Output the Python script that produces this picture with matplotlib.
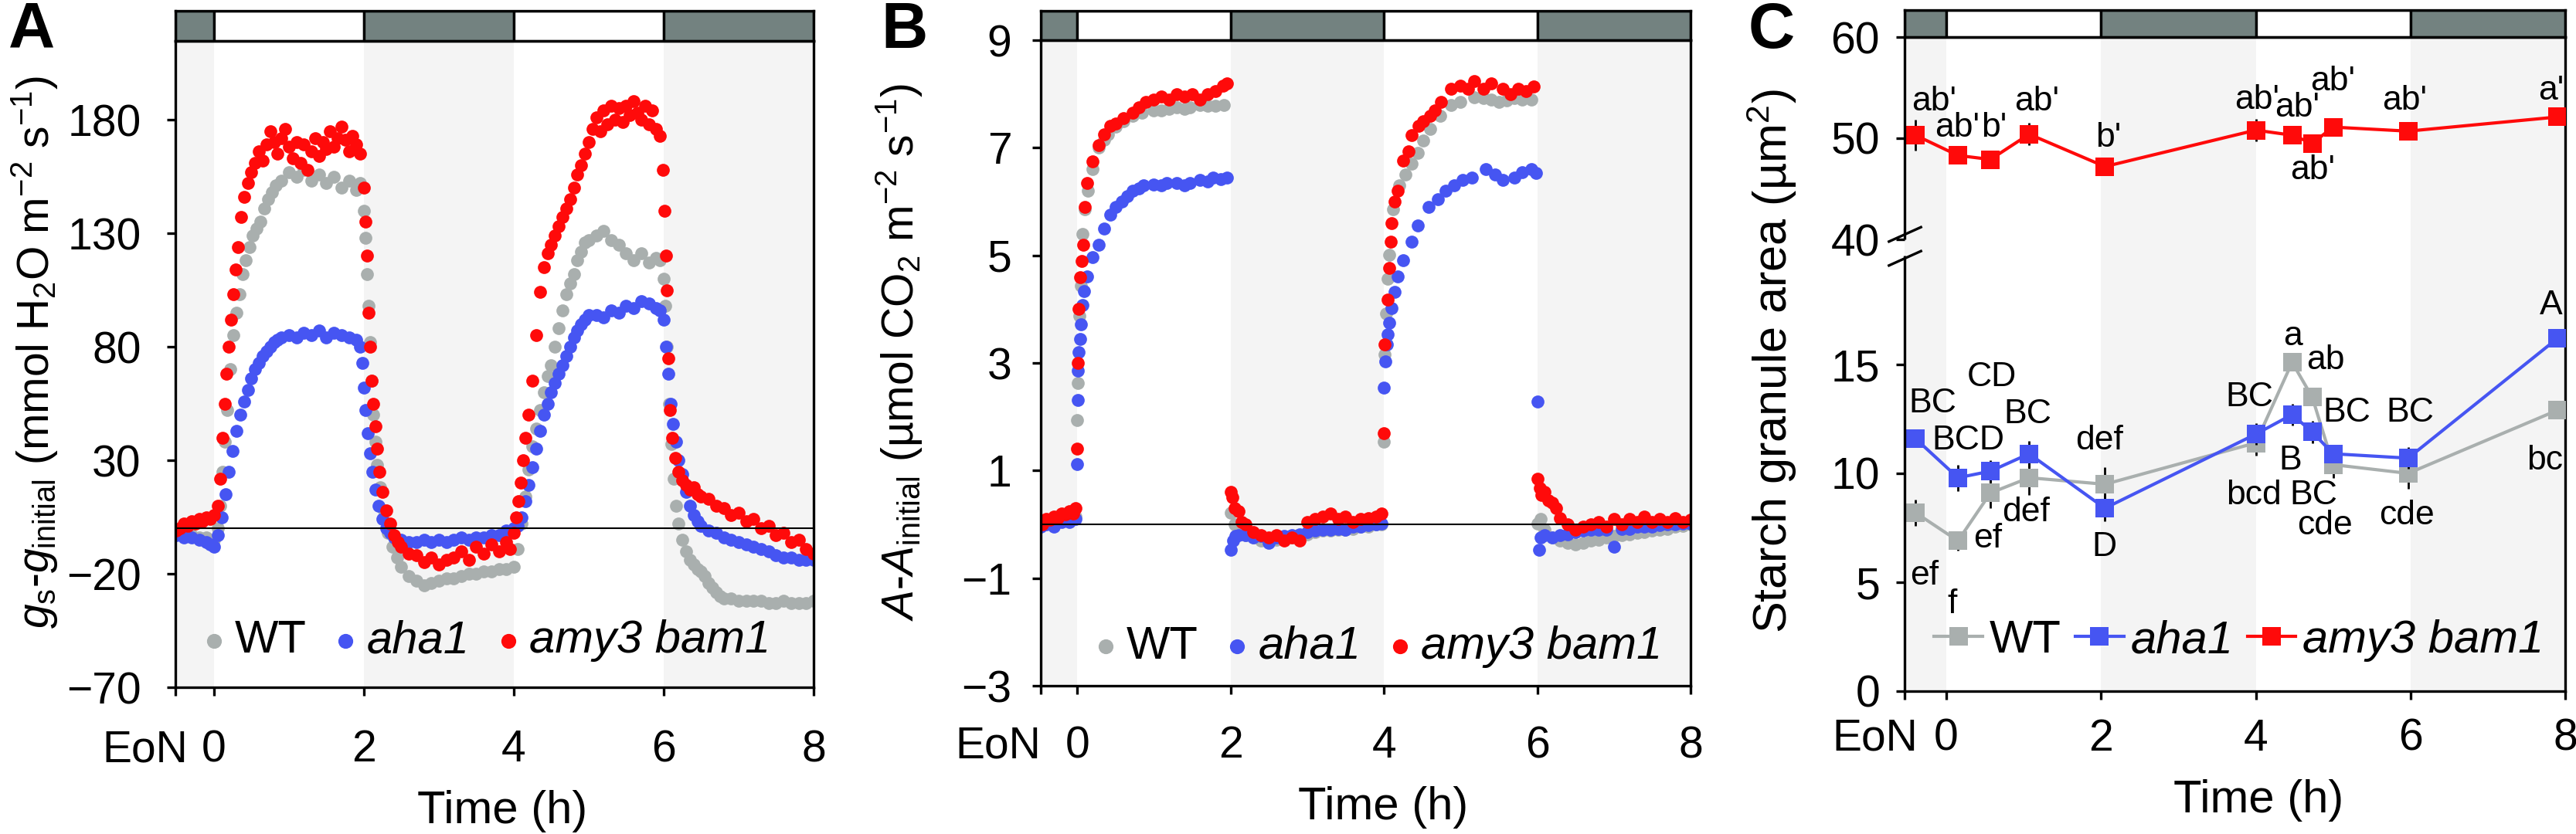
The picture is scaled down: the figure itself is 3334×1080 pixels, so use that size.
import numpy as np
import matplotlib
matplotlib.use("Agg")
import matplotlib.pyplot as plt
from matplotlib.patches import Rectangle
from matplotlib.transforms import ScaledTranslation

# ---------------------------------------------------------------- data
GENOTYPES = ["WT", "aha1", "amy3 bam1"]
X_TICKS = [0, 2, 4, 6, 8]
LIGHT_PERIODS = [(0, 2), (4, 6)]
DARK_PERIODS = [(2, 4), (6, 8)]

# Panel A: g_s - g_initial (mmol H2O m-2 s-1)
A_WT_T = ([-0.5, -0.4, -0.3, -0.2, -0.1, 0.0]
          + [0.05, 0.08, 0.11, 0.14, 0.18, 0.22, 0.26, 0.3, 0.34, 0.38, 0.42, 0.47, 0.52, 0.57, 0.62, 0.67, 0.72, 0.77, 0.83]
          + [0.9, 1.0, 1.1, 1.2, 1.3, 1.4, 1.5, 1.6, 1.7, 1.8, 1.9, 1.95]
          + [2.0, 2.02, 2.04, 2.06, 2.08, 2.1, 2.12, 2.15, 2.18, 2.22, 2.27, 2.32, 2.38, 2.44, 2.5]
          + [2.6, 2.7, 2.8, 2.9, 3.0, 3.1, 3.2, 3.3, 3.4, 3.5, 3.6, 3.7, 3.8, 3.9, 4.0]
          + [4.05, 4.1, 4.15, 4.2, 4.25, 4.3, 4.35, 4.4, 4.45, 4.5, 4.55, 4.6, 4.65, 4.7, 4.75, 4.8, 4.85, 4.9, 4.95, 5.0]
          + [5.1, 5.2, 5.3, 5.4, 5.5, 5.6, 5.7, 5.8, 5.9, 5.95]
          + [6.0, 6.02, 6.04, 6.07, 6.1, 6.13, 6.16, 6.2, 6.25, 6.3, 6.35, 6.4, 6.45, 6.5, 6.55, 6.6, 6.65, 6.7, 6.75, 6.8]
          + [6.9, 7.0, 7.1, 7.2, 7.3, 7.4, 7.5, 7.6, 7.7, 7.8, 7.9, 8.0])
A_WT_V = ([-2, -3, -3, -4, -4, -5]
          + [0, 10, 25, 38, 52, 70, 85, 95, 103, 112, 118, 124, 129, 132, 135, 141, 145, 148, 151]
          + [153, 157, 155, 158, 153, 156, 152, 155, 150, 153, 149, 152]
          + [140, 128, 112, 98, 82, 65, 50, 38, 28, 18, 8, -2, -8, -13, -17]
          + [-21, -23, -25, -24, -23, -22, -22, -21, -20, -20, -19, -19, -18, -18, -17]
          + [-9, 2, 14, 26, 36, 44, 52, 60, 67, 72, 80, 88, 96, 103, 108, 112, 118, 122, 126, 127]
          + [129, 131, 127, 125, 121, 118, 121, 117, 119, 118]
          + [110, 98, 80, 55, 37, 22, 10, 2, -5, -10, -14, -16, -18, -19, -21, -24, -26, -28, -30, -31]
          + [-31, -32, -32, -32, -32, -33, -33, -32, -33, -33, -33, -32])

A_AHA_T = ([-0.5, -0.4, -0.3, -0.2, -0.1, -0.05, 0.0]
           + [0.05, 0.1, 0.15, 0.2, 0.25, 0.3, 0.35, 0.4, 0.45, 0.5, 0.55, 0.6, 0.65, 0.7, 0.75, 0.8, 0.85, 0.9]
           + [1.0, 1.1, 1.2, 1.3, 1.4, 1.5, 1.6, 1.7, 1.8, 1.9, 1.95]
           + [1.98, 2.0, 2.02, 2.05, 2.08, 2.11, 2.15, 2.2, 2.25, 2.3, 2.35, 2.4]
           + [2.5, 2.6, 2.7, 2.8, 2.9, 3.0, 3.1, 3.2, 3.3, 3.4, 3.5, 3.6, 3.7, 3.8, 3.9, 4.0]
           + [4.05, 4.1, 4.15, 4.2, 4.25, 4.3, 4.35, 4.4, 4.45, 4.5, 4.55, 4.6, 4.65, 4.7, 4.75, 4.8, 4.85, 4.9, 4.95, 5.0]
           + [5.1, 5.2, 5.3, 5.4, 5.5, 5.6, 5.7, 5.8, 5.9, 5.95]
           + [6.0, 6.03, 6.06, 6.09, 6.12, 6.16, 6.2, 6.25, 6.3, 6.35, 6.4, 6.45, 6.5]
           + [6.6, 6.7, 6.8, 6.9, 7.0, 7.1, 7.2, 7.3, 7.4, 7.5, 7.6, 7.7, 7.8, 7.9, 8.0])
A_AHA_V = ([-3, -4, -4, -5, -6, -7, -8]
           + [-3, 5, 15, 25, 34, 43, 50, 56, 61, 66, 70, 73, 76, 78, 80, 82, 83, 84]
           + [85, 84, 86, 85, 87, 84, 86, 85, 84, 83, 80]
           + [73, 62, 52, 42, 33, 25, 17, 10, 4, 0, -2, -4]
           + [-5, -6, -6, -5, -6, -5, -6, -5, -4, -5, -4, -4, -3, -3, -1, 0]
           + [1, 5, 12, 19, 27, 35, 43, 50, 55, 60, 64, 68, 72, 76, 80, 84, 87, 90, 92, 94]
           + [94, 93, 96, 95, 98, 97, 100, 99, 97, 96]
           + [92, 80, 68, 55, 46, 38, 30, 24, 16, 10, 6, 3, 1]
           + [-1, -2, -4, -5, -6, -7, -8, -9, -10, -12, -13, -13, -14, -14, -14])

A_AMY_T = ([-0.5, -0.45, -0.4, -0.35, -0.3, -0.25, -0.2, -0.15, -0.1, -0.05, 0.0]
           + [0.05, 0.08, 0.11, 0.14, 0.17, 0.2, 0.23, 0.26, 0.29, 0.32, 0.36, 0.4, 0.45, 0.5, 0.55, 0.6, 0.65, 0.7, 0.75, 0.8]
           + [0.85, 0.9, 0.95, 1.0, 1.05, 1.1, 1.15, 1.2, 1.25, 1.3, 1.35, 1.4, 1.45, 1.5, 1.55, 1.6, 1.65, 1.7, 1.75, 1.8, 1.85, 1.9, 1.95]
           + [2.0, 2.02, 2.04, 2.06, 2.08, 2.1, 2.12, 2.15, 2.18, 2.21, 2.25, 2.3, 2.35, 2.4, 2.45, 2.5]
           + [2.6, 2.7, 2.8, 2.9, 3.0, 3.1, 3.2, 3.3, 3.4, 3.5, 3.6, 3.7, 3.8, 3.9, 3.95]
           + [4.0, 4.03, 4.06, 4.09, 4.12, 4.16, 4.2, 4.25, 4.3, 4.35, 4.4, 4.45, 4.5, 4.55, 4.6, 4.65, 4.7, 4.75, 4.8, 4.85, 4.9, 4.95, 5.0]
           + [5.05, 5.1, 5.15, 5.2, 5.25, 5.3, 5.35, 5.4, 5.45, 5.5, 5.55, 5.6, 5.65, 5.7, 5.75, 5.8, 5.85, 5.9, 5.95]
           + [5.99, 6.01, 6.03, 6.04, 6.06, 6.08, 6.11, 6.15, 6.2, 6.25]
           + [6.3, 6.35, 6.4, 6.45, 6.5]
           + [6.6, 6.7, 6.8, 6.9, 7.0, 7.1, 7.2, 7.3, 7.4, 7.5, 7.6, 7.7, 7.8, 7.9, 8.0])
A_AMY_V = ([-1, 0, 2, 1, 3, 2, 4, 3, 5, 4, 6]
           + [10, 22, 40, 55, 68, 80, 92, 103, 114, 124, 137, 146, 152, 157, 161, 166, 162, 169, 175, 170]
           + [165, 172, 176, 168, 163, 170, 161, 169, 158, 166, 172, 164, 170, 167, 175, 168, 172, 177, 171, 166, 173, 169, 165]
           + [150, 135, 120, 95, 80, 65, 55, 45, 35, 25, 16, 8, 2, -3, -6, -8]
           + [-11, -12, -15, -13, -16, -14, -13, -10, -14, -8, -11, -7, -10, -6, -9]
           + [-2, 5, 12, 20, 30, 40, 50, 65, 85, 104, 115, 121, 125, 129, 133, 137, 141, 145, 150, 156, 160, 165, 170]
           + [176, 181, 175, 184, 178, 186, 180, 185, 179, 186, 182, 188, 183, 180, 186, 178, 184, 176, 173]
           + [158, 140, 120, 105, 75, 52, 40, 31, 25, 21]
           + [19, 17, 18, 15, 14]
           + [13, 10, 9, 6, 7, 3, 4, 0, 1, -3, -2, -6, -5, -9, -11])

# Panel B: A - A_initial (umol CO2 m-2 s-1)
B_WT_T = ([-0.47, -0.4, -0.3, -0.2, -0.1, -0.02]
          + [0.0, 0.01, 0.03, 0.05, 0.07, 0.1, 0.14, 0.2, 0.28, 0.35, 0.4, 0.5, 0.6, 0.72, 0.85, 1.0, 1.1, 1.2, 1.3, 1.4, 1.47, 1.6, 1.7, 1.8, 1.91]
          + [2.0, 2.05, 2.1, 2.2, 2.3, 2.4, 2.5, 2.6, 2.7, 2.8, 2.9, 3.0, 3.1, 3.2, 3.3, 3.4, 3.5, 3.6, 3.7, 3.8, 3.9, 3.97]
          + [4.0, 4.01, 4.03, 4.05, 4.07, 4.12, 4.2, 4.28, 4.36, 4.44, 4.51, 4.6, 4.73, 4.88, 5.0, 5.18, 5.3, 5.4, 5.5, 5.6, 5.7, 5.8, 5.92]
          + [6.0, 6.05, 6.1, 6.2, 6.3, 6.4, 6.5, 6.6, 6.7, 6.8, 6.9, 7.0, 7.1, 7.2, 7.3, 7.4, 7.5, 7.6, 7.7, 7.8, 7.9, 8.0])
B_WT_V = ([0.0, 0.05, 0.05, 0.1, 0.1, 0.15]
          + [1.94, 2.63, 3.88, 4.44, 5.4, 5.86, 6.2, 6.6, 7.0, 7.15, 7.25, 7.39, 7.5, 7.6, 7.65, 7.69, 7.7, 7.72, 7.75, 7.72, 7.75, 7.8, 7.78, 7.78, 7.8]
          + [0.22, 0.0, -0.1, -0.2, -0.25, -0.3, -0.3, -0.28, -0.25, -0.25, -0.2, -0.18, -0.15, -0.12, -0.12, -0.1, -0.1, -0.08, -0.05, -0.05, 0.0, 0.0]
          + [1.53, 3.16, 3.92, 4.57, 5.01, 5.86, 6.3, 6.5, 6.7, 6.9, 7.14, 7.35, 7.59, 7.79, 7.85, 7.94, 7.92, 7.9, 7.85, 7.88, 7.92, 7.9, 7.89]
          + [0.02, 0.1, -0.1, -0.25, -0.3, -0.35, -0.38, -0.35, -0.3, -0.28, -0.25, -0.22, -0.2, -0.18, -0.16, -0.15, -0.12, -0.1, -0.08, -0.05, -0.03, 0.0])

B_AHA_T = ([-0.47, -0.4, -0.3, -0.2, -0.1, -0.02]
           + [0.0, 0.005, 0.01, 0.02, 0.04, 0.05, 0.07, 0.09, 0.13, 0.2, 0.28, 0.35, 0.43, 0.5, 0.58, 0.65, 0.72, 0.8, 0.87, 1.0, 1.1, 1.17, 1.3, 1.4, 1.47, 1.6, 1.7, 1.77, 1.87, 1.95]
           + [2.0, 2.03, 2.06, 2.1, 2.2, 2.3, 2.4, 2.5, 2.6, 2.7, 2.8, 2.9, 3.0, 3.1, 3.2, 3.3, 3.4, 3.5, 3.6, 3.7, 3.8, 3.9, 3.97]
           + [4.0, 4.02, 4.04, 4.05, 4.07, 4.1, 4.14, 4.18, 4.25, 4.36, 4.44, 4.58, 4.7, 4.81, 4.92, 5.03, 5.15, 5.33, 5.45, 5.55, 5.7, 5.8, 5.92, 5.98]
           + [6.0, 6.02, 6.05, 6.1, 6.2, 6.3, 6.4, 6.5, 6.6, 6.7, 6.8, 6.9, 7.0, 7.1, 7.2, 7.3, 7.4, 7.5, 7.6, 7.7, 7.8, 7.9, 8.0])
B_AHA_V = ([-0.05, 0.0, -0.05, 0.05, 0.05, 0.1]
           + [1.12, 2.31, 2.86, 3.2, 3.45, 3.72, 4.07, 4.34, 4.61, 4.97, 5.2, 5.5, 5.76, 5.9, 6.0, 6.1, 6.2, 6.25, 6.3, 6.32, 6.3, 6.35, 6.35, 6.3, 6.35, 6.4, 6.38, 6.45, 6.42, 6.45]
           + [-0.47, -0.3, -0.22, -0.2, -0.2, -0.25, -0.22, -0.35, -0.25, -0.22, -0.2, -0.18, -0.15, -0.12, -0.1, -0.1, -0.08, -0.1, -0.05, -0.05, -0.02, 0.0, 0.02]
           + [2.54, 3.03, 3.35, 3.53, 3.75, 4.02, 4.32, 4.61, 4.91, 5.26, 5.56, 5.9, 6.05, 6.2, 6.3, 6.4, 6.45, 6.6, 6.5, 6.4, 6.45, 6.55, 6.6, 6.53]
           + [2.28, -0.47, -0.25, -0.2, -0.25, -0.2, -0.18, -0.15, -0.12, -0.1, -0.1, -0.1, -0.42, -0.08, -0.08, -0.05, -0.05, -0.05, -0.02, 0.0, 0.0, 0.02, 0.02])

B_AMY_T = ([-0.47, -0.45, -0.4, -0.35, -0.3, -0.25, -0.2, -0.15, -0.1, -0.05, -0.02]
           + [0.0, 0.01, 0.02, 0.04, 0.06, 0.08, 0.1, 0.13, 0.2, 0.28, 0.35, 0.43, 0.5, 0.6, 0.72, 0.8, 0.9, 1.0, 1.1, 1.2, 1.3, 1.4, 1.5, 1.6, 1.7, 1.8, 1.9, 1.95]
           + [2.0, 2.02, 2.05, 2.1, 2.15, 2.2, 2.3, 2.4, 2.5, 2.6, 2.7, 2.8, 2.9, 3.0, 3.1, 3.2, 3.3, 3.4, 3.5, 3.6, 3.7, 3.8, 3.9, 3.97]
           + [4.0, 4.01, 4.05, 4.07, 4.09, 4.1, 4.14, 4.18, 4.25, 4.32, 4.36, 4.45, 4.51, 4.6, 4.66, 4.75, 4.88, 5.0, 5.1, 5.18, 5.3, 5.4, 5.55, 5.65, 5.75, 5.85, 5.95]
           + [6.0, 6.03, 6.06, 6.1, 6.15, 6.2, 6.25, 6.3, 6.4, 6.5, 6.6, 6.7, 6.8, 6.9, 7.0, 7.1, 7.2, 7.3, 7.4, 7.5, 7.6, 7.7, 7.8, 7.9, 8.0])
B_AMY_V = ([0.05, 0.0, 0.1, 0.08, 0.15, 0.12, 0.2, 0.18, 0.25, 0.2, 0.3]
           + [1.4, 3.0, 4.0, 4.6, 4.9, 5.2, 5.9, 6.35, 6.75, 7.05, 7.25, 7.4, 7.45, 7.55, 7.65, 7.75, 7.85, 7.9, 7.95, 7.9, 8.0, 7.95, 8.0, 7.9, 8.0, 8.05, 8.15, 8.2]
           + [0.6, 0.5, 0.3, 0.25, 0.05, 0.0, -0.15, -0.2, -0.25, -0.2, -0.3, -0.25, -0.3, 0.05, 0.1, 0.15, 0.2, 0.1, 0.15, 0.05, 0.1, 0.12, 0.15, 0.2]
           + [1.7, 3.35, 4.17, 4.77, 5.26, 5.6, 6.0, 6.2, 6.76, 6.94, 7.24, 7.4, 7.49, 7.6, 7.69, 7.85, 8.09, 8.15, 8.1, 8.24, 8.1, 8.2, 8.09, 8.0, 8.1, 8.05, 8.14]
           + [0.84, 0.67, 0.55, 0.6, 0.45, 0.4, 0.3, 0.12, 0.0, -0.1, -0.05, 0.0, 0.05, -0.05, 0.1, 0.0, 0.1, 0.05, 0.15, 0.05, 0.1, 0.05, 0.12, 0.05, 0.08])

# Panel C: starch granule area (um2)
C_T = [-0.4, 0.15, 0.57, 1.07, 2.05, 4.0, 4.47, 4.73, 5.0, 5.97, 7.9]
C_WT = [8.2, 6.9, 9.1, 9.8, 9.5, 11.4, 15.1, 13.5, 10.4, 10.0, 12.9]
C_WT_ERR = [0.6, 0.45, 0.7, 0.8, 0.8, 0.6, 0.3, 0.3, 0.6, 0.7, 0.3]
C_AHA = [11.6, 9.8, 10.1, 10.9, 8.4, 11.8, 12.7, 11.9, 10.9, 10.7, 16.2]
C_AHA_ERR = [0.4, 0.6, 0.5, 0.6, 0.6, 0.5, 0.5, 0.5, 0.3, 0.5, 0.3]
C_AMY = [50.3, 48.3, 47.9, 50.4, 47.2, 50.8, 50.3, 49.5, 51.1, 50.7, 52.1]
C_AMY_ERR = [1.5, 0.8, 0.5, 1.1, 0.5, 1.1, 0.6, 0.8, 0.8, 0.5, 0.5]

# significance letters (text, x, y)
C_LETTERS = [
    ("ab'", -0.16, 53.6), ("ab'", 0.14, 51.0), ("b'", 0.62, 51.0), ("ab'", 1.17, 53.6),
    ("b'", 2.09, 50.0), ("ab'", 4.02, 53.8), ("ab'", 4.54, 53.0), ("ab'", 4.99, 55.6),
    ("ab'", 4.74, 46.8), ("ab'", 5.92, 53.7), ("a'", 7.82, 54.7),
    ("BC", -0.18, 13.2), ("BCD", 0.28, 11.5), ("CD", 0.59, 14.4), ("BC", 1.05, 12.7),
    ("def", 1.98, 11.5), ("def", 1.03, 8.2), ("ef", 0.54, 7.0), ("D", 2.04, 6.6),
    ("ef", -0.28, 5.3), ("f", 0.07, 4.0), ("bcd", 3.97, 9.0), ("BC", 4.75, 9.0),
    ("B", 4.45, 10.6), ("cde", 4.89, 7.6), ("cde", 5.95, 8.05), ("BC", 3.92, 13.5),
    ("a", 4.48, 16.3), ("ab", 4.9, 15.2), ("BC", 5.18, 12.8), ("BC", 6.0, 12.8),
    ("A", 7.82, 17.7), ("bc", 7.74, 10.6),
]

# ---------------------------------------------------------------- style
plt.rcParams['font.family'] = ['Liberation Sans', 'DejaVu Sans']
plt.rcParams['mathtext.fontset'] = 'custom'
plt.rcParams['mathtext.rm'] = 'Liberation Sans'
plt.rcParams['mathtext.it'] = 'Liberation Sans:italic'
plt.rcParams['mathtext.bf'] = 'Liberation Sans:bold'

GRAY = '#a9afae'
BLUE = '#4655f2'
RED = '#ff0a0a'
HEADER = '#738280'
SHADE = '#f4f4f4'
LW = 2.4
TICK_FS = 41

W, H = 3334, 1080
fig = plt.figure(figsize=(W / 100, H / 100), dpi=100)


def rect(x0, y0, x1, y1):
    return [x0 / W, 1 - y1 / H, (x1 - x0) / W, (y1 - y0) / H]


def header(box, xmin):
    hx = fig.add_axes(rect(*box))
    hx.set_xlim(xmin, 8)
    hx.set_ylim(0, 1)
    edges = [xmin, 0, 2, 4, 6, 8]
    for a, b in zip(edges[:-1], edges[1:]):
        light = any(a >= s and b <= e for s, e in LIGHT_PERIODS)
        hx.add_patch(Rectangle((a, 0), b - a, 1, facecolor='white' if light else HEADER,
                               edgecolor='k', lw=LW))
    hx.set_xticks([])
    hx.set_yticks([])
    for sp in hx.spines.values():
        sp.set_linewidth(LW)
    return hx


def base_axes(box, xmin, xpad, ypad, eon_dx):
    ax = fig.add_axes(rect(*box))
    ax.set_xlim(xmin, 8)
    ax.axvspan(xmin, 0, color=SHADE, lw=0, zorder=0)
    for s, e in DARK_PERIODS:
        ax.axvspan(s, e, color=SHADE, lw=0, zorder=0)
    ax.set_xticks([xmin] + X_TICKS, ['EoN'] + [str(t) for t in X_TICKS])
    for sp in ax.spines.values():
        sp.set_linewidth(LW)
    ax.tick_params(direction='out', length=8, width=LW, labelsize=TICK_FS)
    ax.tick_params(axis='x', pad=xpad)
    ax.tick_params(axis='y', pad=ypad)
    lab = ax.xaxis.get_major_ticks()[0].label1
    lab.set_horizontalalignment('right')
    lab.set_transform(lab.get_transform() + ScaledTranslation(eon_dx / 100, 0, fig.dpi_scale_trans))
    return ax


def scatter_legend(ax, handles, anchor):
    leg = ax.legend(handles, GENOTYPES, loc='center left', bbox_to_anchor=anchor, ncol=3,
                    frameon=False, fontsize=43, handletextpad=0.1, columnspacing=0.5,
                    borderpad=0, borderaxespad=0, handlelength=0.7, markerscale=1.15)
    for i, t in enumerate(leg.get_texts()):
        if i > 0:
            t.set_fontstyle('italic')
    return leg


DOT = 145

# ---------------- Panel A
axA = base_axes((227, 53, 1053, 890), -0.515, 31, 24, 16)
header((227, 14, 1053, 53), -0.515)
axA.set_ylim(-70, 214.7)
axA.set_yticks([-70, -20, 30, 80, 130, 180])
hA = [axA.scatter(A_WT_T, A_WT_V, s=DOT, color=GRAY, lw=0, zorder=2),
      axA.scatter(A_AHA_T, A_AHA_V, s=DOT, color=BLUE, lw=0, zorder=2.1),
      axA.scatter(A_AMY_T, A_AMY_V, s=DOT, color=RED, lw=0, zorder=2.2)]
axA.axhline(0, color='k', lw=1.5, zorder=3)
scatter_legend(axA, hA, (0.035, 0.072))

# ---------------- Panel B
axB = base_axes((1347, 52, 2188, 888), -0.475, 29, 19, 0)
header((1347, 14, 2188, 52), -0.475)
axB.set_ylim(-3, 9)
axB.set_yticks([-3, -1, 1, 3, 5, 7, 9])
hB = [axB.scatter(B_WT_T, B_WT_V, s=DOT, color=GRAY, lw=0, zorder=2),
      axB.scatter(B_AHA_T, B_AHA_V, s=DOT, color=BLUE, lw=0, zorder=2.1),
      axB.scatter(B_AMY_T, B_AMY_V, s=DOT, color=RED, lw=0, zorder=2.2)]
axB.axhline(0, color='k', lw=1.5, zorder=3)
scatter_legend(axB, hB, (0.075, 0.061))

# ---------------- Panel C (broken y axis through a function scale)
GAP = 21 / 28.2
SQ = 13.1 / 28.2


def fwd(v):
    v = np.asarray(v, dtype=float)
    return np.where(v <= 20, v, np.where(v >= 40, 20 + GAP + (v - 40) * SQ, 20 + (v - 20) / 20 * GAP))


def inv(u):
    u = np.asarray(u, dtype=float)
    return np.where(u <= 20, u, np.where(u >= 20 + GAP, 40 + (u - 20 - GAP) / SQ, 20 + (u - 20) / GAP * 20))


XMIN_C = -0.54
axC = base_axes((2465, 48, 3320, 895), XMIN_C, 17, 15, 17)
header((2465, 13, 3320, 48), XMIN_C)
axC.set_yscale('function', functions=(fwd, inv))
axC.set_ylim(0, 60)
axC.set_yticks([0, 5, 10, 15, 40, 50, 60])
axC.spines['left'].set_visible(False)
for lo, hi in [(0, 20), (40, 60)]:
    axC.plot([XMIN_C, XMIN_C], [lo, hi], color='k', lw=LW, clip_on=False, zorder=6,
             solid_capstyle='butt')
for yb in (19.9, 40.5):
    axC.plot([XMIN_C], [yb], marker=[(-1, -0.45), (1, 0.45)], ms=32, mew=LW, color='k',
             clip_on=False, zorder=7)

series_c = [(C_WT, C_WT_ERR, GRAY, 3), (C_AHA, C_AHA_ERR, BLUE, 4), (C_AMY, C_AMY_ERR, RED, 5)]
hC = []
for vals, err, col, z in series_c:
    eb = axC.errorbar(C_T, vals, yerr=err, fmt='-s', color=col, ecolor='k', elinewidth=2,
                      capsize=6, capthick=2, ms=17, mew=0, lw=3, zorder=z)
    hC.append(eb[0])
for txt, x, y in C_LETTERS:
    axC.text(x, y, txt, ha='center', va='center', fontsize=32, zorder=8)
legC = axC.legend(hC, GENOTYPES, loc='center left', bbox_to_anchor=(0.045, 0.077), ncol=3,
                  frameon=False, fontsize=43, handletextpad=0.15, columnspacing=0.3,
                  borderpad=0, borderaxespad=0, handlelength=1.05)
for i, t in enumerate(legC.get_texts()):
    if i > 0:
        t.set_fontstyle('italic')

# ---------------- labels
YL = 41
fig.text(45 / W, 1 - 456 / H,
         r'$g_{\mathrm{s}}$-$g_{\mathrm{initial}}$ (mmol H$_{2}$O m$^{-2}$ s$^{-1}$)',
         rotation=90, ha='center', va='center', fontsize=YL)
fig.text(1164 / W, 1 - 456 / H,
         r'$A$-$A_{\mathrm{initial}}$ (µmol CO$_{2}$ m$^{-2}$ s$^{-1}$)',
         rotation=90, ha='center', va='center', fontsize=YL)
fig.text(2293 / W, 1 - 468 / H, r'Starch granule area (µm$^{2}$)',
         rotation=90, ha='center', va='center', fontsize=44)

for xc, yb in [(650, 1066), (1790, 1061), (2923, 1052)]:
    fig.text(xc / W, 1 - yb / H, 'Time (h)', ha='center', va='baseline', fontsize=43)

for txt, xl in [('A', 11), ('B', 1140), ('C', 2263)]:
    fig.text(xl / W, 1 - 62 / H, txt, ha='left', va='baseline', fontsize=60, fontweight='bold')

fig.savefig('out.png', dpi=100)
